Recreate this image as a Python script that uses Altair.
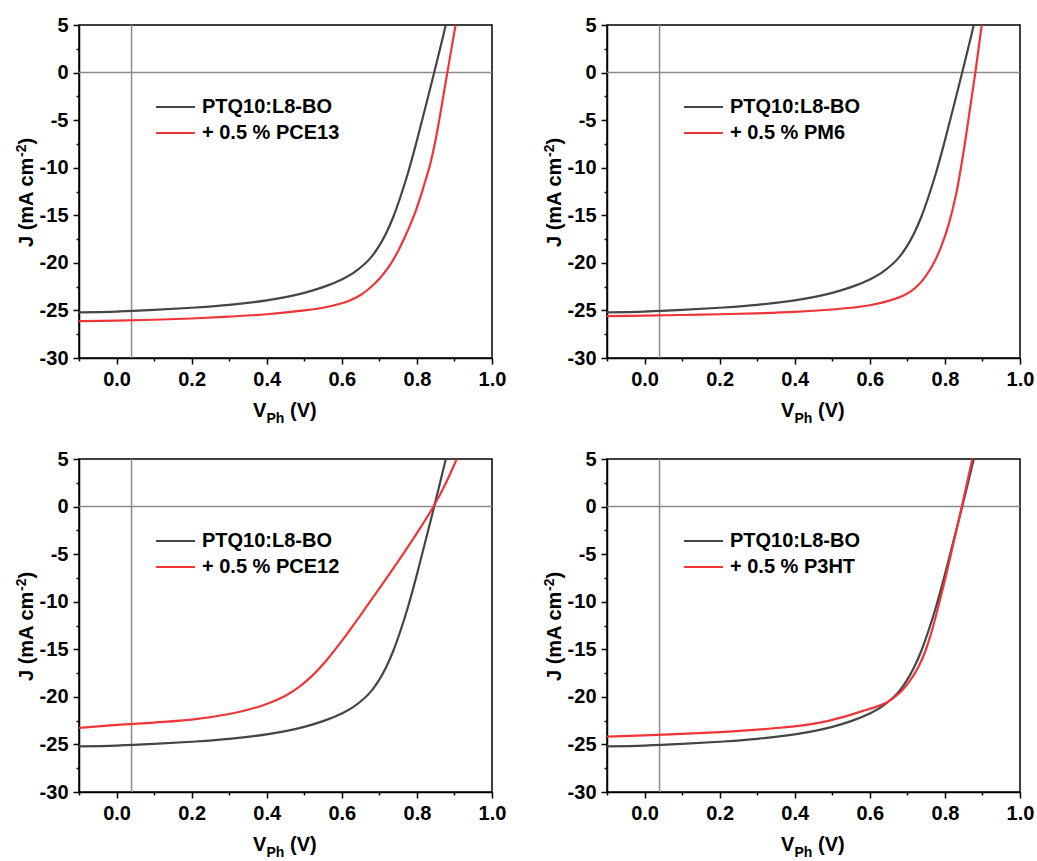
import altair as alt
import pandas as pd

# ---------------- data ----------------
REF_NAME = "PTQ10:L8-BO"

V_REF = [-0.10, 0.00, 0.10, 0.20, 0.30, 0.40, 0.45, 0.50, 0.55, 0.60, 0.63, 0.66, 0.68,
         0.699, 0.718, 0.737, 0.756, 0.776, 0.796, 0.816, 0.846, 0.877]
J_REF = [-25.20, -25.12, -24.95, -24.72, -24.42, -23.95, -23.60, -23.15, -22.55, -21.75,
         -21.08, -20.15, -19.32, -18.25, -16.89, -15.18, -13.08, -10.58, -7.73, -4.67,
         0.0, 5.0]

V_PCE13 = [-0.10, 0.00, 0.10, 0.20, 0.30, 0.40, 0.50, 0.55, 0.60, 0.62, 0.65, 0.67, 0.69,
           0.71, 0.732, 0.75, 0.77, 0.794, 0.81, 0.822, 0.834, 0.846, 0.859, 0.87, 0.881,
           0.903]
J_PCE13 = [-26.12, -26.08, -25.98, -25.85, -25.65, -25.40, -25.00, -24.72, -24.25, -23.98,
           -23.38, -22.80, -22.10, -21.20, -20.00, -18.75, -17.10, -14.85, -13.00, -11.45,
           -9.85, -7.80, -5.10, -2.55, 0.0, 5.0]

V_PM6 = [-0.10, 0.00, 0.10, 0.20, 0.30, 0.40, 0.50, 0.55, 0.60, 0.65, 0.69, 0.71, 0.73,
         0.75, 0.77, 0.79, 0.81, 0.83, 0.85, 0.865, 0.881, 0.898]
J_PM6 = [-25.60, -25.55, -25.48, -25.40, -25.30, -25.15, -24.90, -24.72, -24.46, -24.00,
         -23.42, -22.97, -22.30, -21.35, -20.05, -18.30, -15.95, -12.75, -8.25, -4.28,
         0.0, 5.0]

V_PCE12 = [-0.10, 0.00, 0.10, 0.20, 0.30, 0.35, 0.40, 0.45, 0.48, 0.52, 0.56, 0.60, 0.65,
           0.70, 0.755, 0.80, 0.844, 0.875, 0.906]
J_PCE12 = [-23.27, -22.95, -22.70, -22.40, -21.80, -21.35, -20.75, -19.88, -19.14, -17.82,
           -16.12, -14.12, -11.40, -8.60, -5.47, -2.80, 0.0, 2.30, 5.0]

V_P3HT = [-0.10, 0.00, 0.10, 0.20, 0.30, 0.36, 0.42, 0.48, 0.53, 0.58, 0.62, 0.649, 0.668,
          0.686, 0.708, 0.729, 0.748, 0.765, 0.782, 0.800, 0.818, 0.845, 0.873]
J_P3HT = [-24.18, -24.05, -23.90, -23.70, -23.45, -23.25, -23.00, -22.60, -22.10, -21.50,
          -21.00, -20.50, -19.95, -19.32, -18.25, -16.89, -15.18, -13.08, -10.58, -7.73,
          -4.67, 0.0, 5.0]

PANELS = [
    ("+ 0.5 % PCE13", V_PCE13, J_PCE13),
    ("+ 0.5 % PM6", V_PM6, J_PM6),
    ("+ 0.5 % PCE12", V_PCE12, J_PCE12),
    ("+ 0.5 % P3HT", V_P3HT, J_P3HT),
]

X_DOMAIN = [-0.1, 1.0]
Y_DOMAIN = [-30, 5]
X_TICKS = [round(-0.1 + 0.1 * i, 1) for i in range(12)]
Y_TICKS = [-30 + 2.5 * i for i in range(15)]
V_MARK = [0.04]   # vertical guide line
J_MARK = [0.0]    # horizontal guide line

# ---------------- style ----------------
W, H = 413, 333
DARK = "#454545"
RED = "#f03538"
GRAY = "#8c8c8c"
FONT = "Arial"

xscale = alt.Scale(domain=X_DOMAIN, nice=False, zero=False)
yscale = alt.Scale(domain=Y_DOMAIN, nice=False, zero=False)

xaxis = alt.Axis(
    values=X_TICKS, title=None, grid=False,
    labelExpr="abs(round(datum.value*10)) % 2 === 0 ? format(datum.value, '.1f') : ''",
    tickSize={"condition": {"test": "abs(round(datum.value*10)) % 2 === 0", "value": 6}, "value": 3},
    labelPadding=5, labelFlush=False, labelOverlap=False,
)
yaxis = alt.Axis(
    values=Y_TICKS, title=None, grid=False,
    labelExpr="abs(datum.value) % 5 === 0 ? replace(datum.label, '\u2212', '-') : ''",
    tickSize={"condition": {"test": "abs(datum.value) % 5 === 0", "value": 6}, "value": 3},
    labelPadding=5, labelFlush=False, labelOverlap=False,
)


def text_layer(s, x, y, size, angle=0, align="left", baseline="alphabetic"):
    kw = dict(font=FONT, fontWeight="bold", fontSize=size, align=align,
              baseline=baseline, color="black")
    if angle:
        kw["angle"] = angle
    return alt.Chart(pd.DataFrame({"t": [s]})).mark_text(**kw).encode(
        x=alt.value(x), y=alt.value(y), text="t:N")


def panel(label, v, j):
    ref_df = pd.DataFrame({"V": V_REF, "J": J_REF})
    add_df = pd.DataFrame({"V": v, "J": j})

    vline = alt.Chart(pd.DataFrame({"V": V_MARK})).mark_rule(
        color=GRAY, strokeWidth=1.5).encode(
        x=alt.X("V:Q", scale=xscale, axis=xaxis))
    hline = alt.Chart(pd.DataFrame({"J": J_MARK})).mark_rule(
        color=GRAY, strokeWidth=1.5).encode(
        y=alt.Y("J:Q", scale=yscale, axis=yaxis))

    def curve(df, color):
        return alt.Chart(df).mark_line(
            color=color, strokeWidth=2.2, interpolate="catmull-rom", clip=True
        ).encode(
            x=alt.X("V:Q", scale=xscale, axis=xaxis),
            y=alt.Y("J:Q", scale=yscale, axis=yaxis),
        )

    layers = [vline, hline, curve(ref_df, DARK), curve(add_df, RED)]

    # legend
    for i, (name, col) in enumerate([(REF_NAME, DARK), (label, RED)]):
        yy = 82 + 26 * i
        layers.append(
            alt.Chart(pd.DataFrame({"t": [name]})).mark_rule(
                color=col, strokeWidth=2.2).encode(
                x=alt.value(77), x2=alt.value(116), y=alt.value(yy)))
        layers.append(text_layer(name, 123, yy, 20, baseline="middle"))

    # x axis title: V_Ph (V)
    layers.append(text_layer("V", 174, 392, 20))
    layers.append(text_layer("Ph", 187.5, 398, 14))
    layers.append(text_layer("(V)", 211, 392, 20))
    # y axis title: J (mA cm^-2)
    layers.append(text_layer("J (mA cm", -46, 222, 20, angle=270))
    layers.append(text_layer("-2", -53, 132, 14, angle=270))
    layers.append(text_layer(")", -46, 119.5, 20, angle=270))

    return alt.layer(*layers).properties(width=W, height=H)


chart = alt.concat(
    *[panel(lbl, v, j) for lbl, v, j in PANELS],
    columns=2,
    spacing={"row": 101, "column": 115},
    bounds="flush",
).properties(
    padding={"left": 14, "top": 14, "right": 2, "bottom": 2},
    background="white",
).configure_view(
    stroke="black", strokeWidth=1.5
).configure_axis(
    domainColor="black", domainWidth=1.5, tickColor="black", tickWidth=1.5,
    labelFont=FONT, labelFontSize=20, labelFontWeight="bold", labelColor="black",
)

chart.save("out.html", embed_options={"renderer": "svg", "actions": False})
